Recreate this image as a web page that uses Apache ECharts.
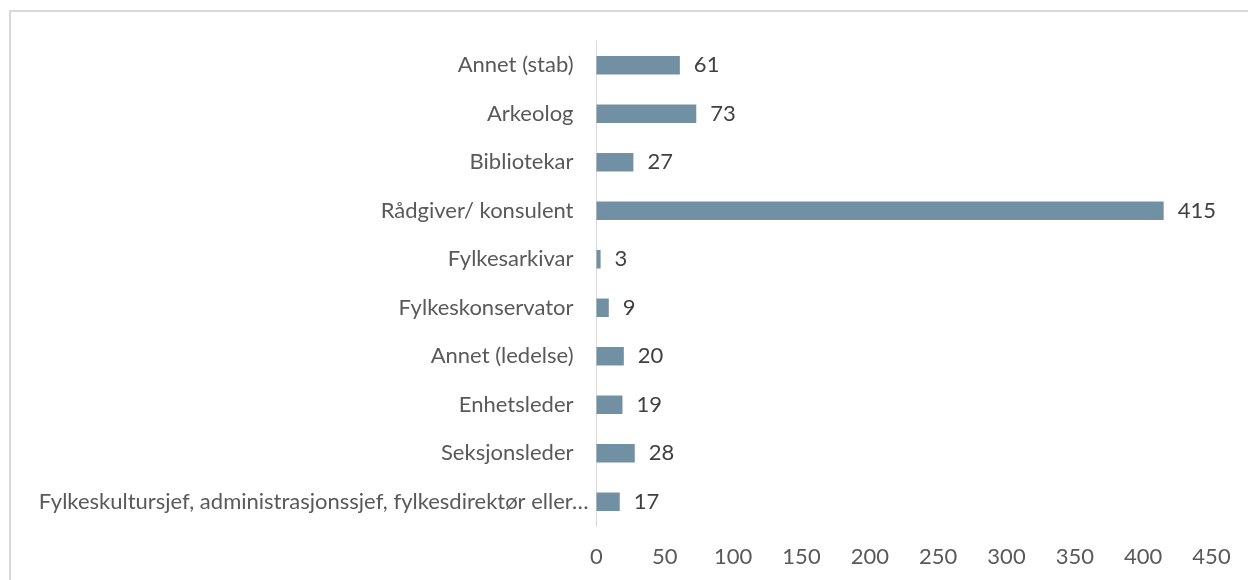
<!DOCTYPE html>
<html>
<head>
<meta charset="utf-8">
<script src="https://cdn.jsdelivr.net/npm/echarts@6/dist/echarts.min.js"></script>
<style>
html,body{margin:0;padding:0;background:#fff;}
#chart{width:1248px;height:580px;}
</style>
</head>
<body>
<div id="chart"></div>
<script>
// Categories, top to bottom as shown
const categories = [
  "Annet (stab)",
  "Arkeolog",
  "Bibliotekar",
  "Rådgiver/ konsulent",
  "Fylkesarkivar",
  "Fylkeskonservator",
  "Annet (ledelse)",
  "Enhetsleder",
  "Seksjonsleder",
  "Fylkeskultursjef, administrasjonssjef, fylkesdirektør eller…"
];
const values = [61, 73, 27, 415, 3, 9, 20, 19, 28, 17];
const axisMin = 0;
const axisMax = 450;
const axisStep = 50;

const FONT = 'Lato';
const FS = 22;
const longName = categories[categories.length - 1];

const chart = echarts.init(document.getElementById('chart'), null, {renderer: 'canvas'});
chart.setOption({
  animation: false,
  backgroundColor: '#ffffff',
  graphic: [{
    type: 'rect',
    shape: {x: 10, y: 11, width: 1260, height: 600},
    style: {fill: 'none', stroke: '#D9D9D9', lineWidth: 2},
    silent: true
  }],
  grid: {left: 596.5, right: 36.5, top: 41, bottom: 54, containLabel: false},
  xAxis: {
    type: 'value',
    min: axisMin, max: axisMax, interval: axisStep,
    axisLine: {show: false},
    axisTick: {show: false},
    splitLine: {show: false},
    axisLabel: {color: '#595959', fontFamily: FONT, fontSize: FS, margin: 20}
  },
  yAxis: {
    type: 'category',
    inverse: true,
    data: categories,
    axisLine: {show: true, lineStyle: {color: '#D9D9D9', width: 1}},
    axisTick: {show: false},
    axisLabel: {
      color: '#595959', fontFamily: FONT, fontSize: FS, margin: 8,
      formatter: v => v === longName ? '{l|' + v + '}' : '{s|' + v + '}',
      rich: {
        l: {color: '#595959', fontFamily: FONT, fontSize: FS},
        s: {color: '#595959', fontFamily: FONT, fontSize: FS, padding: [0, 15, 0, 0]}
      }
    }
  },
  series: [{
    type: 'bar',
    data: values,
    barWidth: 18.5,
    itemStyle: {color: '#7290A3'},
    label: {
      show: true, position: 'right', distance: 14,
      color: '#404040', fontFamily: FONT, fontSize: FS
    }
  }]
});
</script>
</body>
</html>
